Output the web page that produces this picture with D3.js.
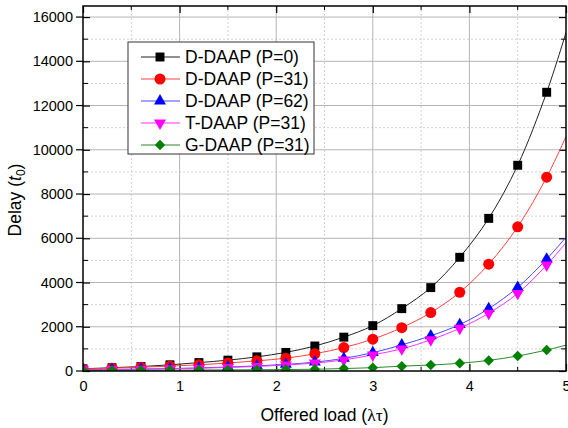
<!DOCTYPE html>
<html>
<head>
<meta charset="utf-8">
<style>
  body { margin: 0; background: #fff; }
  text { font-family: "Liberation Sans", Arial, sans-serif; fill: #000; }
</style>
</head>
<body>
<svg></svg>
<script src="https://cdn.jsdelivr.net/npm/d3@7"></script>
<script>

  // offered load values where markers are drawn
  const loads = [0, 0.3, 0.6, 0.9, 1.2, 1.5, 1.8, 2.1, 2.4, 2.7, 3.0, 3.3, 3.6, 3.9, 4.2, 4.5, 4.8]

  const names = ['D-DAAP (P=0)', 'D-DAAP (P=31)', 'D-DAAP (P=62)', 'T-DAAP (P=31)', 'G-DAAP (P=31)']

  const dP0  = [100, 150, 200, 280, 380, 490, 640, 840, 1130, 1530, 2050, 2820, 3770, 5140, 6900, 9300, 12600]
  const dP31 = [90, 130, 170, 220, 280, 360, 460, 580, 780, 1060, 1440, 1960, 2640, 3560, 4830, 6520, 8760]
  const dP62 = [60, 70, 90, 110, 140, 180, 230, 300, 400, 570, 830, 1180, 1590, 2100, 2820, 3780, 5060]
  const tP31 = [55, 65, 80, 100, 125, 160, 205, 270, 360, 500, 730, 1000, 1410, 1930, 2610, 3510, 4790]
  const gP31 = [30, 30, 35, 40, 45, 50, 55, 65, 80, 110, 150, 220, 270, 350, 480, 680, 950]

  // where each fitted curve leaves the frame at load = 5
  const curveEnd = [15300, 10600, 6050, 5800, 1170]

  const xTicks = [0, 1, 2, 3, 4, 5]
  const yTicks = [0, 2000, 4000, 6000, 8000, 10000, 12000, 14000, 16000]

  const width = 568, height = 428
  const margin = {left: 83, top: 6, right: 2, bottom: 57}
  const w = width - margin.left - margin.right,
        h = height - margin.top - margin.bottom

  const colors = ['#000000', '#ff0000', '#0000ff', '#ff00ff', '#008000']
  const lineColors = ['#222222', '#ff4040', '#4848ff', '#ff30ff', '#2a8a2a']

  const series = [dP0, dP31, dP62, tP31, gP31]

  const xScale = d3.scaleLinear().domain([0, 5]).range([0, w])
  const yScale = d3.scaleLinear().domain([0, 16500]).range([h, 0])

  const svg = d3.select('svg')
    .attr('width', width)
    .attr('height', height)

  const g = svg.append('g')
    .attr('transform', `translate(${margin.left}, ${margin.top})`)

  // minor grid (dotted)
  const xMinor = d3.range(0.5, 5, 1)
  const yMinor = d3.range(1000, 16500, 2000)
  g.selectAll('.gx-minor').data(xMinor).enter().append('line')
    .attr('x1', d => xScale(d)).attr('x2', d => xScale(d))
    .attr('y1', 0).attr('y2', h)
    .attr('stroke', '#d0d0d0').attr('stroke-dasharray', '2,2')
  g.selectAll('.gy-minor').data(yMinor).enter().append('line')
    .attr('y1', d => yScale(d)).attr('y2', d => yScale(d))
    .attr('x1', 0).attr('x2', w)
    .attr('stroke', '#d0d0d0').attr('stroke-dasharray', '2,2')

  // major grid
  g.selectAll('.gx').data(xTicks.slice(1, -1)).enter().append('line')
    .attr('x1', d => xScale(d)).attr('x2', d => xScale(d))
    .attr('y1', 0).attr('y2', h)
    .attr('stroke', '#b4b4b4')
  g.selectAll('.gy').data(yTicks.slice(1)).enter().append('line')
    .attr('y1', d => yScale(d)).attr('y2', d => yScale(d))
    .attr('x1', 0).attr('x2', w)
    .attr('stroke', '#b4b4b4')

  // axes, ticks pointing in
  const fmt = d3.format('d')
  const ax = [
    {axis: d3.axisBottom(xScale).tickValues(xTicks).tickFormat(fmt), tr: `translate(0, ${h})`},
    {axis: d3.axisTop(xScale).tickValues(xTicks).tickFormat(''), tr: 'translate(0, 0)'},
    {axis: d3.axisLeft(yScale).tickValues(yTicks).tickFormat(fmt), tr: 'translate(0, 0)'},
    {axis: d3.axisRight(yScale).tickValues(yTicks).tickFormat(''), tr: `translate(${w}, 0)`}
  ]
  ax.forEach(a => {
    const gA = g.append('g').attr('transform', a.tr)
      .call(a.axis.tickSizeOuter(0).tickSizeInner(-7).tickPadding(10))
    gA.select('.domain').remove()
    gA.selectAll('.tick line').attr('stroke', '#000').attr('stroke-width', 1.2)
    gA.selectAll('text')
      .style('font-family', '"Liberation Sans", Arial, sans-serif')
      .style('font-size', '14.5px')
  })
  // left major ticks also poke out
  g.selectAll('.ytick-out').data(yTicks).enter().append('line')
    .attr('x1', -7).attr('x2', 0)
    .attr('y1', d => yScale(d)).attr('y2', d => yScale(d))
    .attr('stroke', '#000').attr('stroke-width', 1.2)

  // minor ticks
  g.selectAll('.xm-b').data(xMinor).enter().append('line')
    .attr('x1', d => xScale(d)).attr('x2', d => xScale(d))
    .attr('y1', h).attr('y2', h - 4).attr('stroke', '#000')
  g.selectAll('.xm-t').data(xMinor).enter().append('line')
    .attr('x1', d => xScale(d)).attr('x2', d => xScale(d))
    .attr('y1', 0).attr('y2', 4).attr('stroke', '#000')
  g.selectAll('.ym-l').data(yMinor).enter().append('line')
    .attr('y1', d => yScale(d)).attr('y2', d => yScale(d))
    .attr('x1', 0).attr('x2', 5).attr('stroke', '#000')
  g.selectAll('.ym-r').data(yMinor).enter().append('line')
    .attr('y1', d => yScale(d)).attr('y2', d => yScale(d))
    .attr('x1', w).attr('x2', w - 5).attr('stroke', '#000')

  // plot area clip
  svg.append('defs').append('clipPath').attr('id', 'clip')
    .append('rect').attr('width', w).attr('height', h)

  const line = d3.line()
    .x(d => xScale(d[0]))
    .y(d => yScale(d[1]))
    .curve(d3.curveCatmullRom.alpha(0.5))

  const symbols = [
    d3.symbol().type(d3.symbolSquare).size(80),
    d3.symbol().type(d3.symbolCircle).size(95),
    d3.symbol().type(d3.symbolTriangle).size(62),
    d3.symbol().type(d3.symbolTriangle).size(62),
    d3.symbol().type(d3.symbolSquare).size(55)
  ]
  const rotations = [0, 0, 0, 180, 45]

  const gData = g.append('g').attr('clip-path', 'url(#clip)')

  series.forEach((vals, k) => {
    const pts = loads.map((x, i) => [x, vals[i]])
    gData.append('path')
      .datum(pts.concat([[5, curveEnd[k]]]))
      .attr('d', line)
      .attr('fill', 'none')
      .attr('stroke', lineColors[k])
      .attr('stroke-width', 1)
  })
  // markers drawn after lines, last series on top
  series.forEach((vals, k) => {
    gData.selectAll('.m' + k)
      .data(loads.map((x, i) => [x, vals[i]]))
      .enter().append('path')
      .attr('d', symbols[k])
      .attr('transform', d => `translate(${xScale(d[0])}, ${yScale(d[1])}) rotate(${rotations[k]})`)
      .attr('fill', colors[k])
  })

  // frame
  g.append('rect')
    .attr('width', w).attr('height', h)
    .attr('fill', 'none')
    .attr('stroke', '#000')
    .attr('stroke-width', 1.5)

  // legend
  const legend = svg.append('g').attr('transform', 'translate(128, 42)')
  legend.append('rect')
    .attr('width', 186).attr('height', 112)
    .attr('fill', '#fff').attr('stroke', '#333').attr('stroke-width', 1)
  names.forEach((name, k) => {
    const yy = 15 + k * 22
    legend.append('line')
      .attr('x1', 13).attr('x2', 52).attr('y1', yy).attr('y2', yy)
      .attr('stroke', lineColors[k])
    legend.append('path')
      .attr('d', symbols[k])
      .attr('transform', `translate(32, ${yy}) rotate(${rotations[k]})`)
      .attr('fill', colors[k])
    legend.append('text')
      .attr('x', 57).attr('y', yy + 6)
      .style('font-size', '17.5px')
      .text(name)
  })

  // axis titles
  const xt = svg.append('text')
    .attr('x', margin.left + w / 2).attr('y', 421)
    .attr('text-anchor', 'middle')
    .style('font-size', '17.5px')
  xt.append('tspan').text('Offered load (')
  xt.append('tspan').style('font-family', '"Liberation Serif", "Times New Roman", serif').text('λτ')
  xt.append('tspan').text(')')

  const yt = svg.append('text')
    .attr('transform', 'translate(21, 200) rotate(-90)')
    .attr('text-anchor', 'middle')
    .style('font-size', '17.5px')
  yt.append('tspan').text('Delay (')
  yt.append('tspan').style('font-style', 'italic').text('t')
  yt.append('tspan').attr('dy', 4).style('font-size', '12px').text('0')
  yt.append('tspan').attr('dy', -4).text(')')

</script>
</body>
</html>
